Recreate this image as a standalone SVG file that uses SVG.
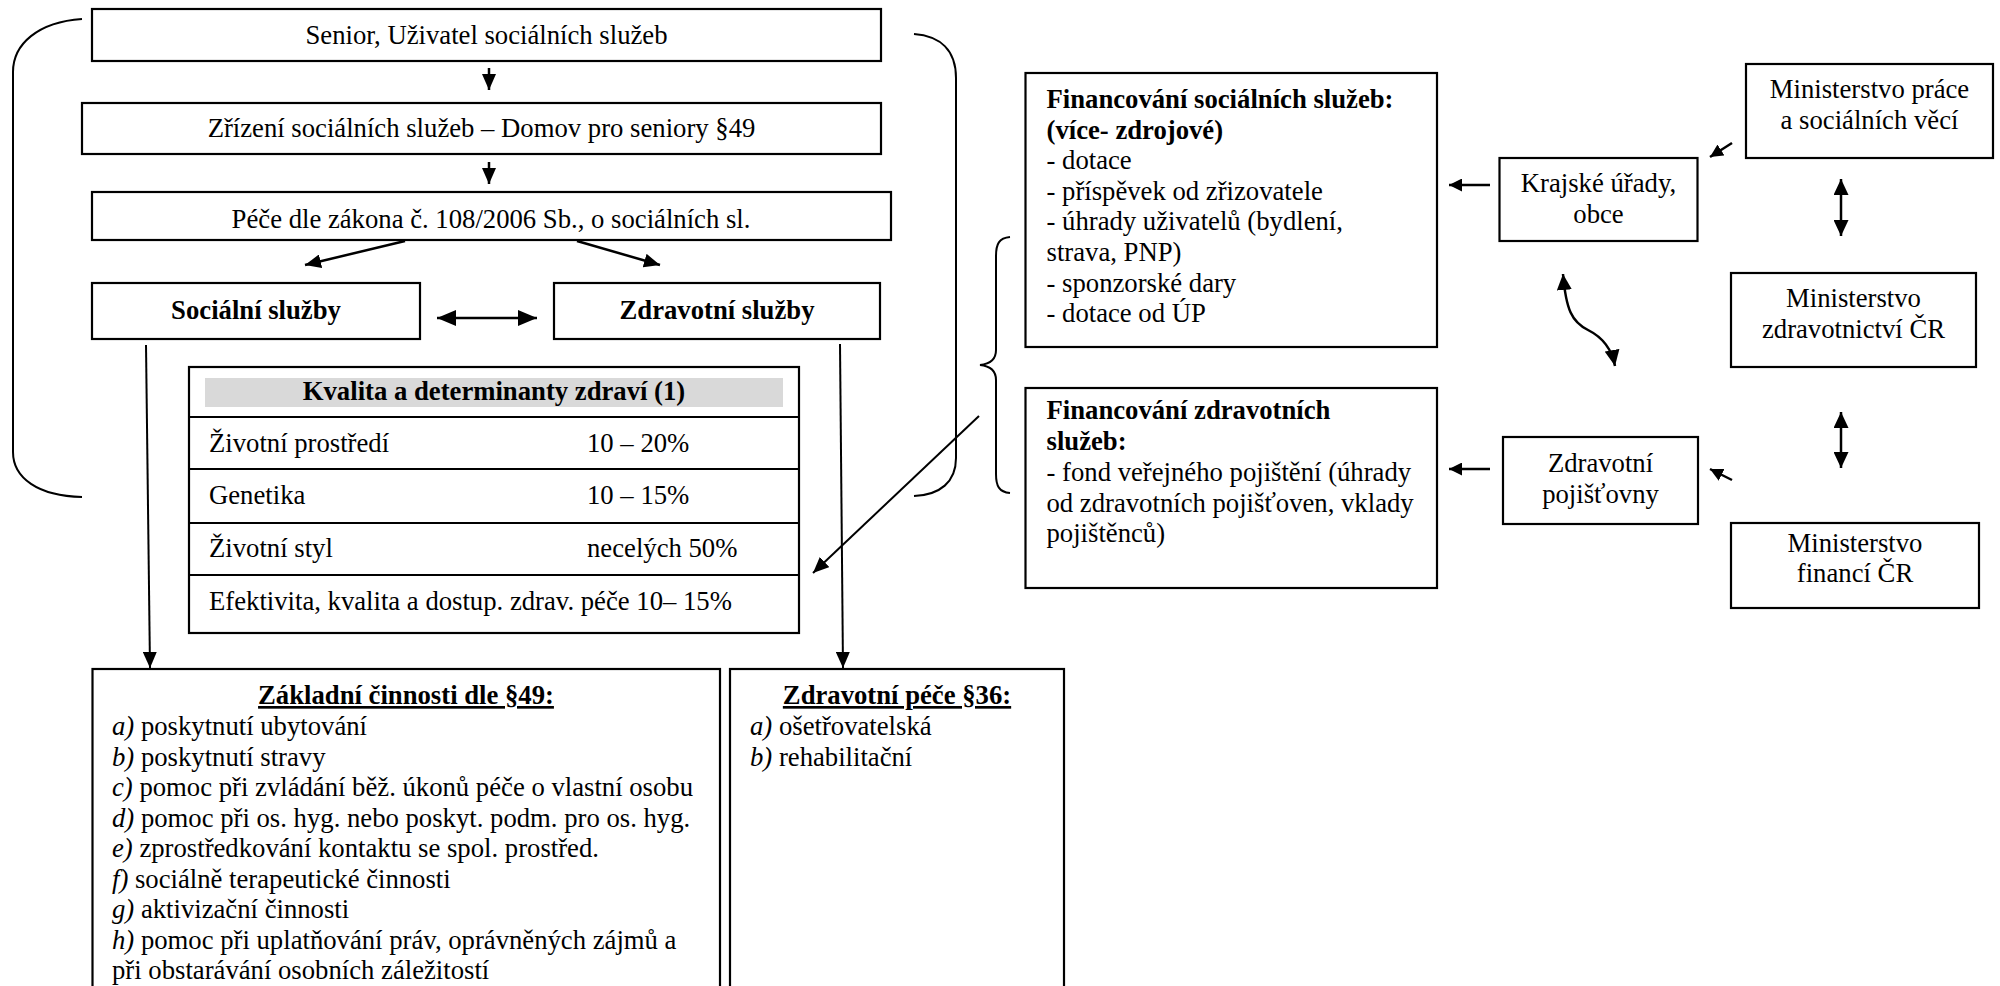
<svg xmlns="http://www.w3.org/2000/svg" width="2000" height="986" viewBox="0 0 2000 986">
  <style>
    text { font-family: "Liberation Serif", "Times New Roman", "DejaVu Serif", serif; font-size: 26.7px; fill: #000; }
    .c { text-anchor: middle; }
    .b { font-weight: bold; }
    .i { font-style: italic; }
    .u { text-decoration: underline; }
    .box { fill: #fff; stroke: #000; stroke-width: 2.2; }
    .ln { fill: none; stroke: #000; stroke-width: 2.5; }
    .thin { fill: none; stroke: #000; stroke-width: 2; }
    .br { fill: none; stroke: #000; stroke-width: 2; }
  </style>
  <defs>
    <marker id="ah" markerUnits="userSpaceOnUse" markerWidth="16" markerHeight="14" refX="16" refY="7" orient="auto-start-reverse">
      <path d="M0,0 L16,7 L0,14 z" fill="#000"/>
    </marker>
    <marker id="ahw" markerUnits="userSpaceOnUse" markerWidth="19" markerHeight="16" refX="19" refY="8" orient="auto-start-reverse">
      <path d="M0,0 L19,8 L0,16 z" fill="#000"/>
    </marker>
    <marker id="ahd" markerUnits="userSpaceOnUse" markerWidth="16" markerHeight="15" refX="16" refY="7.5" orient="auto-start-reverse">
      <path d="M0,0 L16,7.5 L0,15 z" fill="#000"/>
    </marker>
    <marker id="ahs" markerUnits="userSpaceOnUse" markerWidth="13" markerHeight="13" refX="13" refY="6.5" orient="auto-start-reverse">
      <path d="M0,0 L13,6.5 L0,13 z" fill="#000"/>
    </marker>
  </defs>

  <rect width="2000" height="986" fill="#fff"/>

  <!-- brackets around the service block and the financing brace -->
  <g id="brackets">
    <path class="br" d="M82,19 C38,22 13,44 13,72 L13,452 C13,478 38,496 82,497"/>
    <path class="br" d="M914,34 C940,36 956,50 956,78 L956,458 C956,482 940,495 914,496"/>
    <path class="br" stroke-width="1.6" d="M1010,237 C999,238 996,244 996,256 L996,350 C996,360 990,364 980,365 C990,366 996,370 996,380 L996,474 C996,486 999,492 1010,493"/>
  </g>

  <!-- connectors -->
  <g id="connectors">
    <line class="ln" x1="489" y1="68" x2="489" y2="90" marker-end="url(#ah)"/>
    <line class="ln" x1="489" y1="162" x2="489" y2="184" marker-end="url(#ah)"/>
    <line class="ln" x1="405" y1="241" x2="305" y2="265" marker-end="url(#ah)"/>
    <line class="ln" x1="577" y1="241" x2="660" y2="265" marker-end="url(#ah)"/>
    <line class="ln" x1="437" y1="318" x2="537" y2="318" marker-start="url(#ahw)" marker-end="url(#ahw)"/>
    <line class="thin" x1="146" y1="345" x2="150" y2="668" marker-end="url(#ah)"/>
    <line class="thin" x1="840" y1="344" x2="843" y2="668" marker-end="url(#ah)"/>
    <line class="thin" x1="979" y1="416" x2="813" y2="573" marker-end="url(#ah)"/>
    <line class="ln" x1="1490" y1="185" x2="1449" y2="185" marker-end="url(#ahs)"/>
    <line class="ln" x1="1490" y1="469" x2="1449" y2="469" marker-end="url(#ahs)"/>
    <line class="ln" x1="1732" y1="143" x2="1710" y2="157" marker-end="url(#ahs)"/>
    <line class="ln" x1="1732" y1="480" x2="1710" y2="469" marker-end="url(#ahs)"/>
    <line class="ln" x1="1841" y1="179" x2="1841" y2="236" marker-start="url(#ahd)" marker-end="url(#ahd)"/>
    <line class="ln" x1="1841" y1="412" x2="1841" y2="468" marker-start="url(#ahd)" marker-end="url(#ahd)"/>
    <path class="ln" d="M1563,274 C1566,310 1572,322 1588,330 C1604,338 1612,350 1615,366" marker-start="url(#ahd)" marker-end="url(#ahd)"/>
  </g>

  <g id="senior">
    <rect class="box" x="92" y="9" width="789" height="52"/>
    <text class="c" x="486.5" y="44">Senior, Uživatel sociálních služeb</text>
  </g>

  <g id="zrizeni">
    <rect class="box" x="82" y="103" width="799" height="51"/>
    <text class="c" x="481.5" y="137">Zřízení sociálních služeb – Domov pro seniory §49</text>
  </g>

  <g id="pece">
    <rect class="box" x="92" y="192" width="799" height="48"/>
    <text class="c" x="491" y="228">Péče dle zákona č. 108/2006 Sb., o sociálních sl.</text>
  </g>

  <g id="socialni-sluzby">
    <rect class="box" x="92" y="283" width="328" height="56"/>
    <text class="c b" x="256" y="319">Sociální služby</text>
  </g>

  <g id="zdravotni-sluzby">
    <rect class="box" x="554" y="283" width="326" height="56"/>
    <text class="c b" x="717" y="319">Zdravotní služby</text>
  </g>

  <g id="determinanty">
    <rect class="box" x="189" y="367" width="610" height="266"/>
    <rect x="205" y="378" width="578" height="29" fill="#d9d9d9"/>
    <text class="c b" x="494" y="400">Kvalita a determinanty zdraví (1)</text>
    <line class="thin" stroke-width="2.2" x1="189" y1="417" x2="799" y2="417"/>
    <line class="thin" stroke-width="2.2" x1="189" y1="469" x2="799" y2="469"/>
    <line class="thin" stroke-width="2.2" x1="189" y1="523" x2="799" y2="523"/>
    <line class="thin" stroke-width="2.2" x1="189" y1="575" x2="799" y2="575"/>
    <text x="209" y="452">Životní prostředí</text>
    <text x="587" y="452">10 – 20%</text>
    <text x="209" y="504">Genetika</text>
    <text x="587" y="504">10 – 15%</text>
    <text x="209" y="557">Životní styl</text>
    <text x="587" y="557">necelých 50%</text>
    <text x="209" y="610">Efektivita, kvalita a dostup. zdrav. péče 10– 15%</text>
  </g>

  <g id="zakladni-cinnosti">
    <rect class="box" x="92.5" y="669" width="627.5" height="330"/>
    <text class="c b u" x="406" y="704">Základní činnosti dle §49:</text>
    <text x="112" y="735"><tspan class="i">a)</tspan> poskytnutí ubytování</text>
    <text x="112" y="765.5"><tspan class="i">b)</tspan> poskytnutí stravy</text>
    <text x="112" y="796"><tspan class="i">c)</tspan> pomoc při zvládání běž. úkonů péče o vlastní osobu</text>
    <text x="112" y="826.5"><tspan class="i">d)</tspan> pomoc při os. hyg. nebo poskyt. podm. pro os. hyg.</text>
    <text x="112" y="857"><tspan class="i">e)</tspan> zprostředkování kontaktu se spol. prostřed.</text>
    <text x="112" y="887.5"><tspan class="i">f)</tspan> sociálně terapeutické činnosti</text>
    <text x="112" y="918"><tspan class="i">g)</tspan> aktivizační činnosti</text>
    <text x="112" y="948.5"><tspan class="i">h)</tspan> pomoc při uplatňování práv, oprávněných zájmů a</text>
    <text x="112" y="979">při obstarávání osobních záležitostí</text>
  </g>

  <g id="zdravotni-pece">
    <rect class="box" x="730" y="669" width="334" height="330"/>
    <text class="c b u" x="897" y="704">Zdravotní péče §36:</text>
    <text x="750" y="735"><tspan class="i">a)</tspan> ošetřovatelská</text>
    <text x="750" y="765.5"><tspan class="i">b)</tspan> rehabilitační</text>
  </g>

  <g id="financovani-socialnich">
    <rect class="box" x="1025.5" y="73" width="411.5" height="274"/>
    <text class="b" x="1046.5" y="108">Financování sociálních služeb:</text>
    <text class="b" x="1046.5" y="138.6">(více- zdrojové)</text>
    <text x="1046.5" y="169.2">- dotace</text>
    <text x="1046.5" y="199.8">- příspěvek od zřizovatele</text>
    <text x="1046.5" y="230.4">- úhrady uživatelů (bydlení,</text>
    <text x="1046.5" y="261">strava, PNP)</text>
    <text x="1046.5" y="291.6">- sponzorské dary</text>
    <text x="1046.5" y="322.2">- dotace od ÚP</text>
  </g>

  <g id="financovani-zdravotnich">
    <rect class="box" x="1025.5" y="388" width="411.5" height="200"/>
    <text class="b" x="1046.5" y="419">Financování zdravotních</text>
    <text class="b" x="1046.5" y="450">služeb:</text>
    <text x="1046.5" y="481">- fond veřejného pojištění (úhrady</text>
    <text x="1046.5" y="512">od zdravotních pojišťoven, vklady</text>
    <text x="1046.5" y="542">pojištěnců)</text>
  </g>

  <g id="krajske-urady">
    <rect class="box" x="1499.5" y="158" width="198" height="83"/>
    <text class="c" x="1598.5" y="192">Krajské úřady,</text>
    <text class="c" x="1598.5" y="223">obce</text>
  </g>

  <g id="zdravotni-pojistovny">
    <rect class="box" x="1503" y="437" width="195" height="87"/>
    <text class="c" x="1600.5" y="472">Zdravotní</text>
    <text class="c" x="1600.5" y="503">pojišťovny</text>
  </g>

  <g id="mpsv">
    <rect class="box" x="1746" y="64" width="247" height="94"/>
    <text class="c" x="1869.5" y="98">Ministerstvo práce</text>
    <text class="c" x="1869.5" y="129">a sociálních věcí</text>
  </g>

  <g id="mzcr">
    <rect class="box" x="1731" y="273" width="245" height="94"/>
    <text class="c" x="1853.5" y="307">Ministerstvo</text>
    <text class="c" x="1853.5" y="338">zdravotnictví ČR</text>
  </g>

  <g id="mfcr">
    <rect class="box" x="1731" y="523" width="248" height="85"/>
    <text class="c" x="1855" y="552">Ministerstvo</text>
    <text class="c" x="1855" y="582">financí ČR</text>
  </g>
</svg>
